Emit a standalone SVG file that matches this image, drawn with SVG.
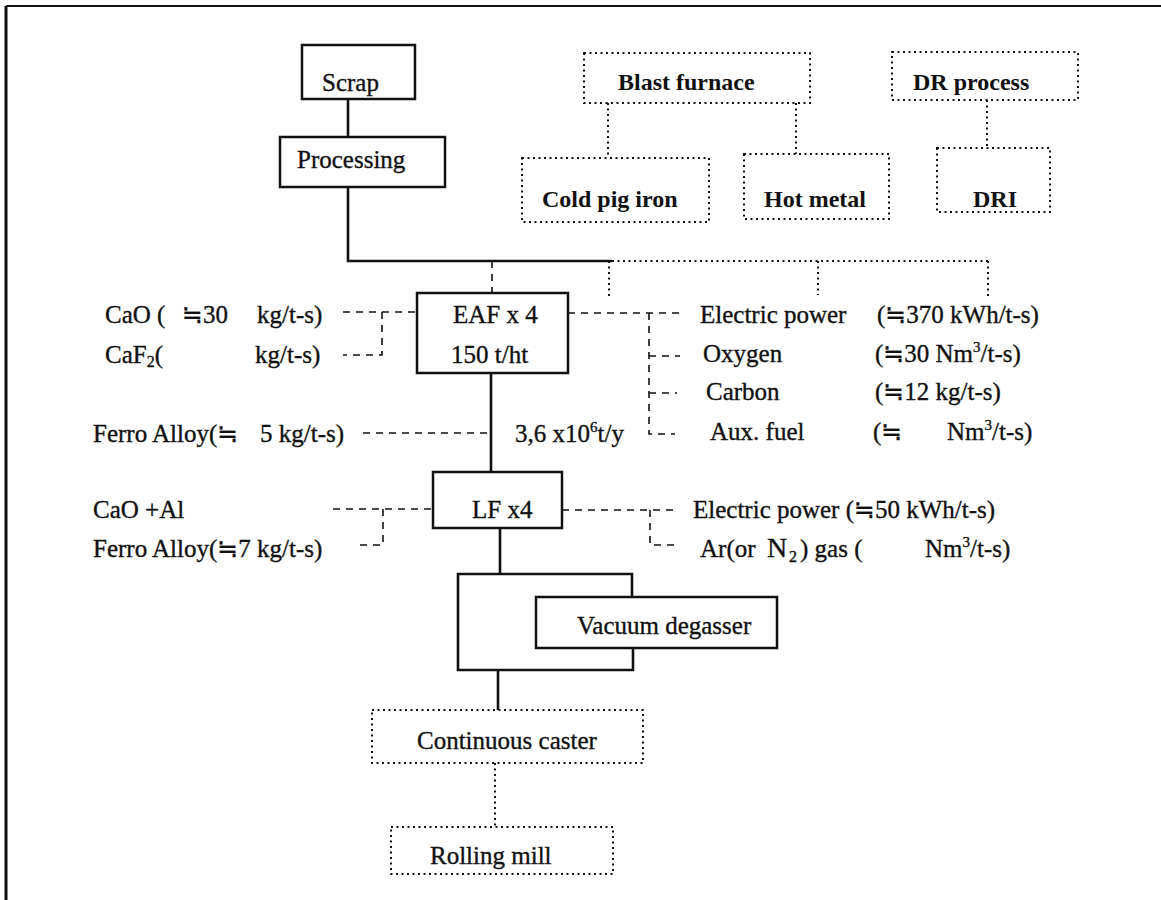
<svg xmlns="http://www.w3.org/2000/svg" width="1161" height="900" viewBox="0 0 1161 900">
  <style>
    text { font-family: "Liberation Serif", "DejaVu Sans", "Noto Sans CJK JP", serif; font-size: 25px; fill: #111; stroke: #111; stroke-width: 0.35; }
    .b { font-weight: bold; font-size: 24px; stroke-width: 0; }
    .box { fill: #fff; stroke: #111; stroke-width: 2.5; }
    .dbox { fill: #fff; stroke: #111; stroke-width: 2; stroke-dasharray: 2 3.5; }
    .solid { fill: none; stroke: #111; stroke-width: 2.6; }
    .dot { fill: none; stroke: #111; stroke-width: 2; stroke-dasharray: 2 3.5; }
    .dash { fill: none; stroke: #111; stroke-width: 1.6; stroke-dasharray: 7 6; }
  </style>
  <rect width="1161" height="900" fill="#fff"/>

  <!-- frame -->
  <g id="frame">
    <path d="M6 900 V6" fill="none" stroke="#111" stroke-width="3"/>
    <path d="M6 6 H1161" fill="none" stroke="#111" stroke-width="2"/>
  </g>

  <!-- connectors -->
  <g id="connectors">
    <path class="solid" d="M348 99 V137"/>
    <path class="solid" d="M348 187 V261 H612"/>
    <path class="dot" d="M612 261 H988"/>
    <path class="dash" d="M492 261 V293"/>
    <path class="dot" d="M609 261 V297"/>
    <path class="dot" d="M818 261 V295"/>
    <path class="dot" d="M988 261 V298"/>
    <path class="dot" d="M608 103 V158"/>
    <path class="dot" d="M796 103 V154"/>
    <path class="dot" d="M987 100 V148"/>
    <path class="solid" d="M491 373 V472"/>
    <path class="solid" d="M500 528 V574"/>
    <path class="solid" d="M632 597 V574 H458 V670 H633 V648"/>
    <path class="solid" d="M498 670 V710"/>
    <path class="dot" d="M495 763 V827"/>
    <!-- EAF inputs, left -->
    <path class="dash" d="M343 312 H417"/>
    <path class="dash" d="M382 312 V355 H343"/>
    <path class="dash" d="M363 433 H491"/>
    <!-- LF inputs, left -->
    <path class="dash" d="M333 509 H433"/>
    <path class="dash" d="M383 509 V545 H357"/>
    <!-- EAF inputs, right -->
    <path class="dash" d="M568 313 H685"/>
    <path class="dash" d="M649 313 V434 H675"/>
    <path class="dash" d="M649 356 H680"/>
    <path class="dash" d="M649 393 H677"/>
    <!-- LF inputs, right -->
    <path class="dash" d="M562 510 H673"/>
    <path class="dash" d="M650 510 V545 H675"/>
  </g>

  <g id="scrap">
    <rect class="box" x="302" y="45" width="113" height="54"/>
    <text x="322" y="91">Scrap</text>
  </g>
  <g id="processing">
    <rect class="box" x="280" y="137" width="165" height="50"/>
    <text x="297" y="168">Processing</text>
  </g>
  <g id="blast-furnace">
    <rect class="dbox" x="584" y="53" width="226" height="50"/>
    <text class="b" x="618" y="90">Blast furnace</text>
  </g>
  <g id="dr-process">
    <rect class="dbox" x="892" y="52" width="186" height="48"/>
    <text class="b" x="913" y="90">DR process</text>
  </g>
  <g id="cold-pig-iron">
    <rect class="dbox" x="522" y="158" width="187" height="64"/>
    <text class="b" x="542" y="207">Cold pig iron</text>
  </g>
  <g id="hot-metal">
    <rect class="dbox" x="744" y="154" width="145" height="65"/>
    <text class="b" x="764" y="207">Hot metal</text>
  </g>
  <g id="dri">
    <rect class="dbox" x="937" y="148" width="113" height="64"/>
    <text class="b" x="973" y="207">DRI</text>
  </g>
  <g id="eaf">
    <rect class="box" x="417" y="293" width="151" height="80"/>
    <text x="453" y="323">EAF x 4</text>
    <text x="451" y="363">150 t/ht</text>
  </g>
  <g id="lf">
    <rect class="box" x="433" y="472" width="129" height="56"/>
    <text x="472" y="518">LF x4</text>
  </g>
  <g id="vacuum-degasser">
    <rect class="box" x="536" y="597" width="241" height="51"/>
    <text x="577" y="634">Vacuum degasser</text>
  </g>
  <g id="continuous-caster">
    <rect class="dbox" x="372" y="710" width="271" height="53"/>
    <text x="417" y="749">Continuous caster</text>
  </g>
  <g id="rolling-mill">
    <rect class="dbox" x="391" y="827" width="222" height="47"/>
    <text x="430" y="864">Rolling mill</text>
  </g>

  <!-- consumption labels -->
  <g id="eaf-inputs-left">
    <text y="323"><tspan x="105">CaO (</tspan><tspan x="182">≒30</tspan><tspan x="257">kg/t-s)</tspan></text>
    <text y="363"><tspan x="105">CaF</tspan><tspan font-size="16" dy="4">2</tspan><tspan dy="-4">(</tspan><tspan x="255">kg/t-s)</tspan></text>
    <text y="442"><tspan x="93">Ferro Alloy(≒</tspan><tspan x="260">5 kg/t-s)</tspan></text>
    <text x="515" y="442">3,6 x10<tspan font-size="15" dy="-10">6</tspan><tspan dy="10">t/y</tspan></text>
  </g>
  <g id="lf-inputs-left">
    <text x="93" y="518">CaO +Al</text>
    <text x="93" y="557">Ferro Alloy(≒7 kg/t-s)</text>
  </g>
  <g id="eaf-inputs-right">
    <text y="323"><tspan x="700">Electric power</tspan><tspan x="877">(≒370 kWh/t-s)</tspan></text>
    <text y="362"><tspan x="703">Oxygen</tspan><tspan x="875">(≒30 Nm</tspan><tspan font-size="15" dy="-10">3</tspan><tspan dy="10">/t-s)</tspan></text>
    <text y="400"><tspan x="706">Carbon</tspan><tspan x="875">(≒12 kg/t-s)</tspan></text>
    <text y="440"><tspan x="710">Aux. fuel</tspan><tspan x="873">(≒</tspan><tspan x="947">Nm</tspan><tspan font-size="15" dy="-10">3</tspan><tspan dy="10">/t-s)</tspan></text>
  </g>
  <g id="lf-inputs-right">
    <text x="693" y="518">Electric power (≒50 kWh/t-s)</text>
    <text y="557"><tspan x="700">Ar(or</tspan><tspan x="767" font-size="28">N</tspan><tspan x="789" font-size="16" dy="5">2</tspan><tspan x="800" dy="-5">) gas (</tspan><tspan x="925">Nm</tspan><tspan font-size="15" dy="-10">3</tspan><tspan dy="10">/t-s)</tspan></text>
  </g>
</svg>
